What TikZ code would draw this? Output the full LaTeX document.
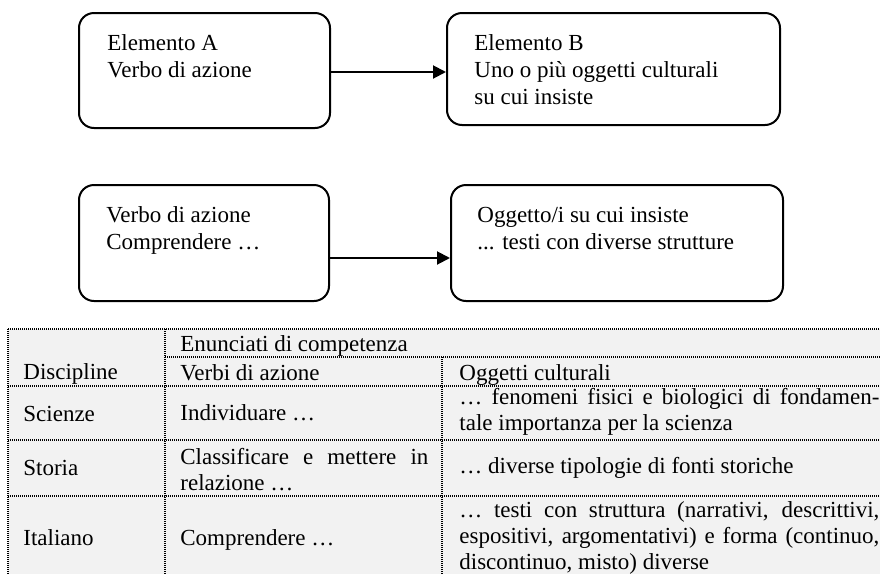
\documentclass[tikz,border=0pt]{standalone}
\usepackage{fontspec}
\setmainfont{Liberation Serif}
\usetikzlibrary{arrows.meta}
\begin{document}
\begin{tikzpicture}[x=0.5pt,y=-0.5pt,
  box/.style={draw, line width=1pt, rounded corners=7.5pt, inner sep=0pt},
  txt/.style={anchor=base west, inner sep=0pt, font=\fontsize{11.5}{13.5}\selectfont},
  conn/.style={line width=1pt, -{Triangle[length=6.5pt,width=6.5pt]}},
  gridline/.style={line width=0.6pt, dash pattern=on 0.5pt off 0.5pt}]
\useasboundingbox (0,0) rectangle (880,574);
\clip (0,0) rectangle (880,574);
% boxes
\node[box, minimum width=125.5pt, minimum height=57.5pt] (A) at (204.5,70.5) {};
\node[box, minimum width=166.5pt, minimum height=56pt] (B) at (613.5,69) {};
\node[box, minimum width=125pt, minimum height=58pt] (C) at (204,243) {};
\node[box, minimum width=166pt, minimum height=58pt] (D) at (617,243) {};
% box texts
\node[txt] (a1) at (107,50) {Elemento A};
\node[txt] (a2) at (107,77) {Verbo di azione};
\node[txt] (b1) at (474,50) {Elemento B};
\node[txt] (b2) at (474,77) {Uno o più oggetti culturali};
\node[txt] (b3) at (474,104) {su cui insiste};
\node[txt] (c1) at (106,222) {Verbo di azione};
\node[txt] (c2) at (106,249) {Comprendere …};
\node[txt] (d1) at (477,222) {Oggetto/i su cui insiste};
\node[txt] (d2) at (477,249) {... testi con diverse strutture};
% connectors
\draw[conn] ([yshift=-0.75pt]A.east) -- ([yshift=-0.75pt]A.east -| B.west);
\draw[conn] ([yshift=-7.5pt]C.east) -- ([yshift=-7.5pt]C.east -| D.west);
% table
\fill[black!5] (8,329) rectangle (900,600);
\draw[gridline] (8,329) -- (900,329);
\draw[gridline] (165,357) -- (900,357);
\draw[gridline] (8,386) -- (900,386);
\draw[gridline] (8,440) -- (900,440);
\draw[gridline] (8,496) -- (900,496);
\draw[gridline] (8,329) -- (8,600);
\draw[gridline] (165,329) -- (165,600);
\draw[gridline] (442,357) -- (442,600);
% table texts
\node[txt] (t0) at (180,351) {Enunciati di competenza};
\node[txt] (t1) at (23,379) {Discipline};
\node[txt] (t2) at (180,380) {Verbi di azione};
\node[txt] (t3) at (459,380) {Oggetti culturali};
\node[txt] (s1) at (23,421) {Scienze};
\node[txt] (s2) at (180,420) {Individuare …};
\node[txt] (s3) at (459,404) {\makebox[210pt][s]{… fenomeni fisici e biologici di fondamen-}};
\node[txt] (s4) at (459,430) {tale importanza per la scienza};
\node[txt] (h1) at (23,475) {Storia};
\node[txt] (h2) at (180,464) {\makebox[124pt][s]{Classificare e mettere in}};
\node[txt] (h3) at (180,490) {relazione …};
\node[txt] (h4) at (459,473) {… diverse tipologie di fonti storiche};
\node[txt] (i1) at (23,545) {Italiano};
\node[txt] (i2) at (180,545) {Comprendere …};
\node[txt] (i3) at (459,517) {\makebox[210pt][s]{… testi con struttura (narrativi, descrittivi,}};
\node[txt] (i4) at (459,543) {\makebox[210pt][s]{espositivi, argomentativi) e forma (continuo,}};
\node[txt] (i5) at (459,569) {discontinuo, misto) diverse};
\end{tikzpicture}
\end{document}
